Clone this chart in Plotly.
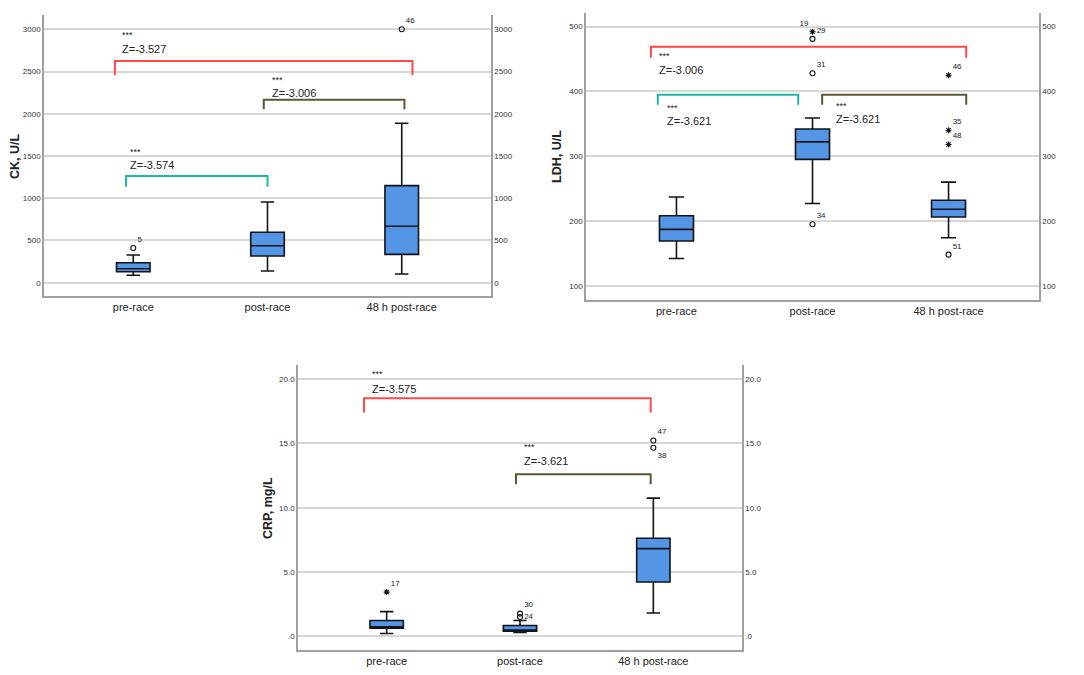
import plotly.graph_objects as go

PAGE_W, PAGE_H = 1084, 675
OFF = 8  # default page margin around the plot div
W, H = PAGE_W - 2 * OFF, PAGE_H - 2 * OFF
FONT = "Liberation Sans"

categories = ["pre-race", "post-race", "48 h post-race"]
cat_pos = [0, 1, 2]

# ---- CK ----
ck_q1 = [130, 316, 336]
ck_med = [166, 438, 668]
ck_q3 = [237, 597, 1149]
ck_lo = [88, 139, 103]
ck_hi = [328, 956, 1888]
ck_out_x = [0, 2]
ck_out_y = [411, 3000]
ck_out_sym = ["circle-open", "circle-open"]
ck_out_lab = ["5", "46"]
ck_out_pos = ["top right", "top right"]
ck_ticks = [0, 500, 1000, 1500, 2000, 2500, 3000]
ck_ticktext = ["0", "500", "1000", "1500", "2000", "2500", "3000"]
ck_range = [-157, 3169]
ck_brackets = [(-0.137, 2.08, 2626, 2456, "red"), (0.972, 2.02, 2167, 2053, "olive"), (-0.054, 1.0, 1264, 1137, "teal")]
ck_labels = [(-0.097, 2933, 2767, "Z=-3.527"), (1.015, 2400, 2243, "Z=-3.006"), (-0.04, 1551, 1394, "Z=-3.574")]

# ---- LDH ----
ldh_q1 = [169, 295, 206]
ldh_med = [187, 322, 218]
ldh_q3 = [208, 342, 232]
ldh_lo = [142, 227, 174]
ldh_hi = [237, 359, 260]
ldh_out_x = [1, 1, 1, 1, 2, 2, 2, 2]
ldh_out_y = [195, 428, 481, 492, 148, 318, 340, 425]
ldh_out_sym = ["circle-open", "circle-open", "circle-open", "asterisk-open", "circle-open", "asterisk-open", "asterisk-open", "asterisk-open"]
ldh_out_lab = ["34", "31", "29", "19", "51", "48", "35", "46"]
ldh_out_pos = ["top right", "top right", "top right", "top left", "top right", "top right", "top right", "top right"]
ldh_ticks = [100, 200, 300, 400, 500]
ldh_ticktext = ["100", "200", "300", "400", "500"]
ldh_range = [78, 521]
ldh_brackets = [(-0.188, 2.13, 469, 452, "red"), (-0.137, 0.895, 395, 379.5, "teal"), (1.071, 2.13, 395, 379.5, "olive")]
ldh_labels = [(-0.144, 455, 433, "Z=-3.006"), (-0.083, 375, 354, "Z=-3.621"), (1.156, 378, 358, "Z=-3.621")]

# ---- CRP ----
crp_q1 = [0.65, 0.42, 4.23]
crp_med = [0.75, 0.5, 6.83]
crp_q3 = [1.24, 0.85, 7.63]
crp_lo = [0.23, 0.31, 1.83]
crp_hi = [1.93, 1.24, 10.75]
crp_out_x = [0, 1, 1, 2, 2]
crp_out_y = [3.45, 1.78, 1.52, 15.23, 14.67]
crp_out_sym = ["asterisk-open", "circle-open", "circle-open", "circle-open", "circle-open"]
crp_out_lab = ["17", "30", "24", "47", "38"]
crp_out_pos = ["top right", "top right", "middle right", "top right", "bottom right"]
crp_ticks = [0, 5, 10, 15, 20]
crp_ticktext = [".0", "5.0", "10.0", "15.0", "20.0"]
crp_range = [-1.05, 21.1]
crp_brackets = [(-0.17, 1.98, 18.51, 17.4, "red"), (0.97, 1.98, 12.6, 11.83, "olive")]
crp_labels = [(-0.126, 20.39, 19.26, "Z=-3.575"), (1.012, 14.72, 13.64, "Z=-3.621")]

COLORS = {"red": "#FF4848", "teal": "#1DB9A0", "olive": "#5E5634"}
BOX_FILL = "#5495E5"
GRID = "#D6D6D6"
AXIS = "#A0A0A0"

panels = [
    dict(q1=ck_q1, med=ck_med, q3=ck_q3, lo=ck_lo, hi=ck_hi, ox=ck_out_x, oy=ck_out_y, osym=ck_out_sym,
         olab=ck_out_lab, opos=ck_out_pos, ticks=ck_ticks, ticktext=ck_ticktext, yr=ck_range,
         br=ck_brackets, lab=ck_labels, title="CK, U/L",
         dom_x=[44, 491], dom_y=[15, 296], title_xy=(15, 156), cap=0.4),
    dict(q1=ldh_q1, med=ldh_med, q3=ldh_q3, lo=ldh_lo, hi=ldh_hi, ox=ldh_out_x, oy=ldh_out_y, osym=ldh_out_sym,
         olab=ldh_out_lab, opos=ldh_out_pos, ticks=ldh_ticks, ticktext=ldh_ticktext, yr=ldh_range,
         br=ldh_brackets, lab=ldh_labels, title="LDH, U/L",
         dom_x=[586, 1039], dom_y=[13, 300], title_xy=(557, 157), cap=0.45),
    dict(q1=crp_q1, med=crp_med, q3=crp_q3, lo=crp_lo, hi=crp_hi, ox=crp_out_x, oy=crp_out_y, osym=crp_out_sym,
         olab=crp_out_lab, opos=crp_out_pos, ticks=crp_ticks, ticktext=crp_ticktext, yr=crp_range,
         br=crp_brackets, lab=crp_labels, title="CRP, mg/L",
         dom_x=[298, 742], dom_y=[365, 650], title_xy=(268, 508), cap=0.4),
]


def fx(px):
    return (px - OFF) / W


def fy(py):
    return 1 - (py - OFF) / H


fig = go.Figure()
annotations = []
layout = {}

for i, p in enumerate(panels):
    n = i + 1
    xa = "x" if n == 1 else f"x{n}"
    ya = "y" if n == 1 else f"y{n}"
    yr_name = f"y{n + 3}"
    fig.add_trace(go.Box(
        x=cat_pos, q1=p["q1"], median=p["med"], q3=p["q3"],
        lowerfence=p["lo"], upperfence=p["hi"],
        width=0.25, whiskerwidth=p["cap"], boxpoints=False,
        fillcolor=BOX_FILL, line=dict(color="#111418", width=1.6),
        xaxis=xa, yaxis=ya, showlegend=False, hoverinfo="skip"))
    fig.add_trace(go.Scatter(
        x=p["ox"], y=p["oy"], mode="markers+text", text=p["olab"], textposition=p["opos"],
        textfont=dict(family=FONT, size=8, color="#222"),
        marker=dict(symbol=p["osym"], size=5, color="#111", line=dict(color="#111", width=1.1)),
        xaxis=xa, yaxis=ya, showlegend=False, hoverinfo="skip", cliponaxis=False))
    for (x0, x1, top, leg, c) in p["br"]:
        fig.add_trace(go.Scatter(
            x=[x0, x0, x1, x1], y=[leg, top, top, leg], mode="lines",
            line=dict(color=COLORS[c], width=2), xaxis=xa, yaxis=ya,
            showlegend=False, hoverinfo="skip"))
    for (tx, ys, yz, txt) in p["lab"]:
        annotations.append(dict(x=tx, y=ys, xref=xa, yref=ya, text="***", showarrow=False,
                                xanchor="left", yanchor="middle",
                                font=dict(family=FONT, size=9, color="#222")))
        annotations.append(dict(x=tx, y=yz, xref=xa, yref=ya, text=txt, showarrow=False,
                                xanchor="left", yanchor="middle",
                                font=dict(family=FONT, size=11, color="#222")))
    fig.add_trace(go.Scatter(x=[cat_pos[0]], y=[p["yr"][0]], mode="markers", marker=dict(opacity=0),
                             xaxis=xa, yaxis=yr_name, showlegend=False, hoverinfo="skip"))
    dx = [fx(p["dom_x"][0]), fx(p["dom_x"][1])]
    dy = [fy(p["dom_y"][1]), fy(p["dom_y"][0])]
    xkey = "xaxis" if n == 1 else f"xaxis{n}"
    ykey = "yaxis" if n == 1 else f"yaxis{n}"
    layout[xkey] = dict(domain=dx, anchor=ya, range=[-0.665, 2.665], tickvals=cat_pos, ticktext=categories,
                        showgrid=False, zeroline=False, showline=True, linecolor=AXIS, linewidth=1.5,
                        ticks="", tickfont=dict(family=FONT, size=11, color="#222"))
    layout[ykey] = dict(domain=dy, anchor=xa, range=p["yr"], tickvals=p["ticks"], ticktext=p["ticktext"],
                        showgrid=True, gridcolor=GRID, gridwidth=1.5, zeroline=False,
                        showline=True, linecolor=AXIS, linewidth=1.5, ticks="",
                        tickfont=dict(family=FONT, size=8, color="#333"))
    layout[f"yaxis{n + 3}"] = dict(overlaying=ya, side="right", anchor=xa, range=p["yr"],
                                   tickvals=p["ticks"], ticktext=p["ticktext"], showgrid=False,
                                   zeroline=False, showline=True, linecolor=AXIS, linewidth=1.5,
                                   ticks="", tickfont=dict(family=FONT, size=8, color="#333"))
    tx, ty = p["title_xy"]
    annotations.append(dict(x=fx(tx), y=fy(ty), xref="paper", yref="paper", text="<b>" + p["title"] + "</b>",
                            textangle=-90, showarrow=False, xanchor="center", yanchor="middle",
                            font=dict(family=FONT, size=12.5, color="#222")))

fig.update_layout(width=W, height=H, margin=dict(l=0, r=0, t=0, b=0),
                  paper_bgcolor="white", plot_bgcolor="white",
                  annotations=annotations, **layout)

fig.write_html("out.html")
